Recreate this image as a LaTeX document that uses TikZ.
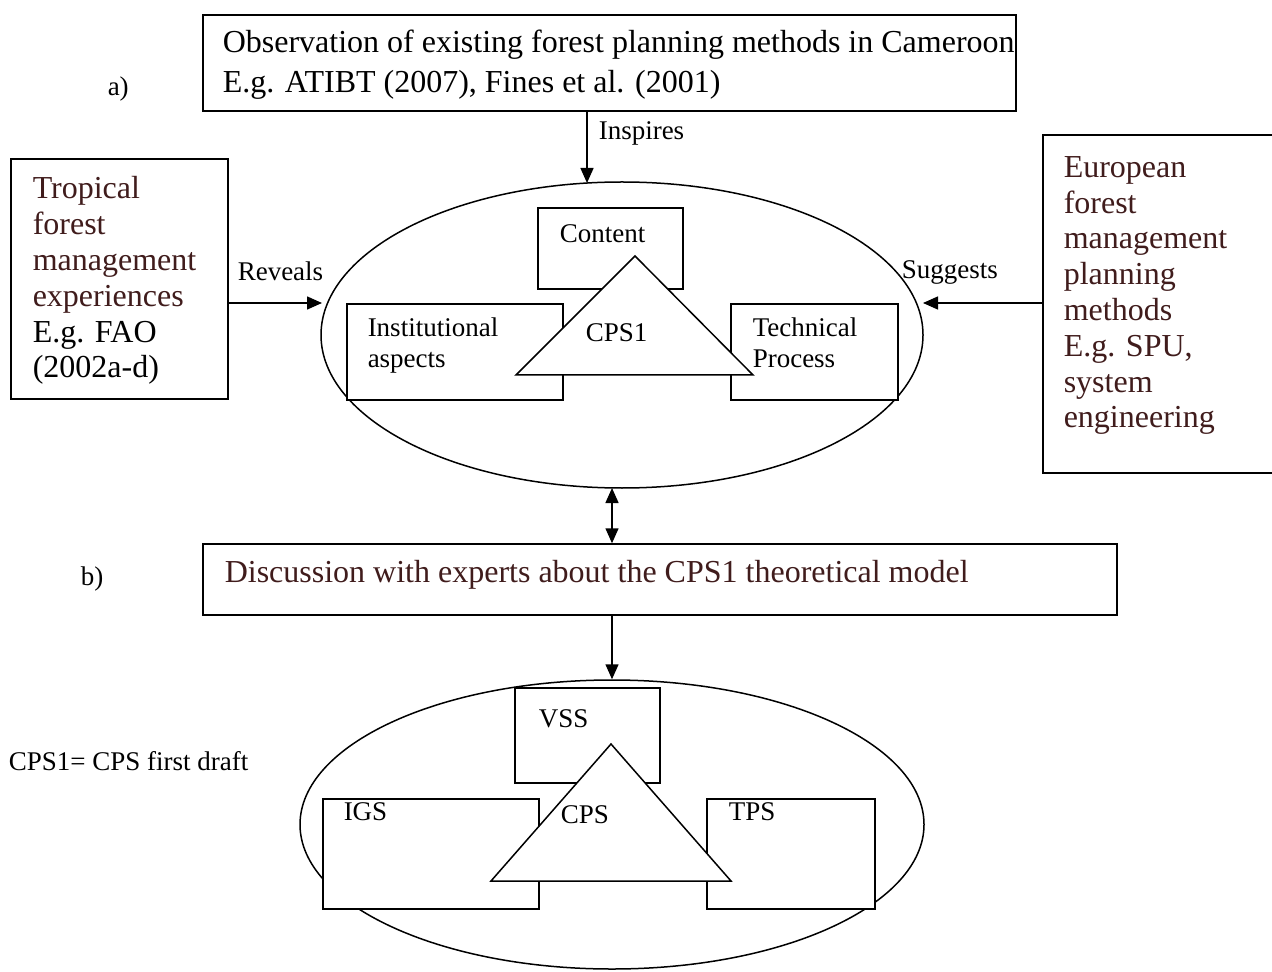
\documentclass[tikz,border=0pt]{standalone}
\usepackage{fontspec}
\setmainfont{Liberation Serif}
\usepackage{xcolor}
\usetikzlibrary{arrows.meta,positioning,calc,fit,shapes.geometric}
\definecolor{txtbrown}{RGB}{64,28,28}

\begin{document}
\begin{tikzpicture}[x=0.5pt,y=-0.5pt,line width=0.75pt,
  box/.style={draw,fill=white,inner sep=0pt},
  ring/.style={draw,ellipse,inner sep=0pt},
  big/.style={font=\fontsize{16}{17.9}\selectfont,align=left,inner sep=0pt},
  small/.style={font=\fontsize{13.5}{15.5}\selectfont,align=left,inner sep=0pt},
  conn/.style={-{Triangle[length=7.5pt,width=6.5pt]}},
  conn2/.style={{Triangle[length=7.5pt,width=6.5pt]}-{Triangle[length=7.5pt,width=6.5pt]}}]
\useasboundingbox (0,0) rectangle (1272,972);

% a) observation and first draft
\node[box,fit={(203,15) (1016,111)}] (obs) {};
\node[big,font=\fontsize{16}{20}\selectfont,anchor=base west] (obstxt) at (222,93) {Observation of existing forest planning methods in Cameroon\\E.g. ATIBT (2007), Fines et al. (2001)};
\node[small,anchor=base west] (alab) at (107,96) {a)};

\node[ring,minimum width=301pt,minimum height=153pt] (cps1ring) at (622,335) {};
\node[box,fit={(538,208) (683,289)}] (content) {};
\node[box,fit={(347,304) (563,400)}] (inst) {};
\node[box,fit={(731,304) (898,400)}] (tech) {};
\draw[fill=white] (635,256) -- (516,375) -- (753,375) -- cycle;
\node[small,anchor=base west] (contenttxt) at (559,243) {Content};
\node[small,anchor=base west] (insttxt) at (367,368) {Institutional\\aspects};
\node[small,anchor=base west] (techtxt) at (752,368) {Technical\\Process};
\node[small,anchor=base west] (cps1txt) at (585,342) {CPS1};

\coordinate (insptip) at (587,183);
\draw[conn] (obs.south -| insptip) -- (insptip);
\node[small,anchor=base west] (insptxt) at (598,140) {Inspires};

\node[box,fit={(11,159) (228,399)}] (trop) {};
\node[big,text=txtbrown,anchor=base west] (troptxt) at (32,378) {Tropical\\forest\\management\\experiences\\\textcolor{black}{E.g. FAO}\\\textcolor{black}{(2002a-d)}};
\coordinate (revtip) at (322,303);
\draw[conn] (trop.east |- revtip) -- (revtip);
\node[small,anchor=base west] (revtxt) at (237,281) {Reveals};

\node[box,fit={(1043,135) (1300,473)}] (euro) {};
\node[big,text=txtbrown,anchor=base west] (eurotxt) at (1063,428) {European\\forest\\management\\planning\\methods\\E.g. SPU,\\system\\engineering};
\coordinate (sugtip) at (923,303);
\draw[conn] (euro.west |- sugtip) -- (sugtip);
\node[small,anchor=base west] (sugtxt) at (901,279) {Suggests};

% b) discussion and final model
\coordinate (dbltop) at (612,488);
\node[box,fit={(203,544) (1117,615)}] (disc) {};
\draw[conn2] (dbltop) -- (disc.north -| dbltop);
\node[big,text=txtbrown,anchor=base west] (disctxt) at (224,582) {Discussion with experts about the CPS1 theoretical model};
\node[small,anchor=base west] (blab) at (80,585) {b)};

\node[ring,minimum width=312pt,minimum height=144.5pt] (cpsring) at (612,824.5) {};
\draw[conn] (disc.south -| cpsring.north) -- (cpsring.north);
\node[box,fit={(515,688) (660,783)}] (vss) {};
\node[box,fit={(323,799) (539,909)}] (igs) {};
\node[box,fit={(707,799) (875,909)}] (tps) {};
\draw[fill=white] (611,744) -- (491,881) -- (731,881) -- cycle;
\node[small,anchor=base west] (vsstxt) at (538,727) {VSS};
\node[small,anchor=base west] (igstxt) at (343,820) {IGS};
\node[small,anchor=base west] (tpstxt) at (728,820) {TPS};
\node[small,anchor=base west] (cpstxt) at (560,823) {CPS};

\node[small,anchor=base west] (note) at (8,770) {CPS1= CPS first draft};
\end{tikzpicture}
\end{document}
